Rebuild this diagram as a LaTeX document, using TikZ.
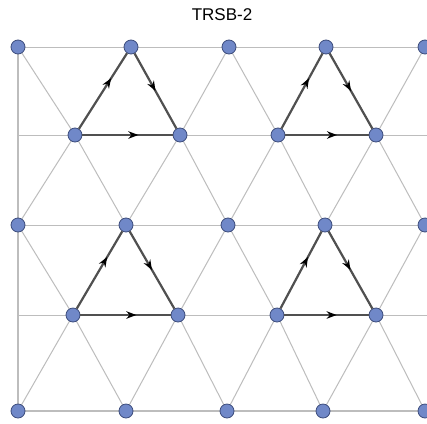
\documentclass[tikz,border=0pt]{standalone}
\usepackage{fontspec}
\setmainfont{Liberation Sans}
\usetikzlibrary{arrows.meta,decorations.markings,backgrounds}
\definecolor{sitefill}{HTML}{7088C8}
\definecolor{siteedge}{HTML}{3C4C7C}
\definecolor{bondgray}{HTML}{BDBDBD}
\definecolor{loopgray}{HTML}{505050}
\tikzset{
  site/.style={circle, fill=sitefill, draw=siteedge, line width=0.8pt,
               minimum size=14pt, inner sep=0pt},
  bond/.style={draw=bondgray, line width=1pt},
  loopbond/.style={draw=loopgray, line width=2.2pt, postaction=decorate,
    decoration={markings, mark=at position #1 with
      {\arrow[black]{Stealth[length=10pt,width=7.5pt]}}}},
}
\begin{document}
\begin{tikzpicture}[x=1pt, y=-1pt]
  \useasboundingbox (0,0) rectangle (427,423);

  \node[font=\fontsize{17}{20}\selectfont] (title) at (222,15) {TRSB-2};

  % lattice sites, row by row
  \foreach \x [count=\i from 0] in {18,131,229,326,425}
    \node[site] (a\i) at (\x,47) {};
  \foreach \x [count=\i from 0] in {75,180,278,376}
    \node[site] (b\i) at (\x,135) {};
  \foreach \x [count=\i from 0] in {18,126,228,325,425}
    \node[site] (c\i) at (\x,225) {};
  \foreach \x [count=\i from 0] in {73,178,277,376}
    \node[site] (d\i) at (\x,315) {};
  \foreach \x [count=\i from 0] in {18,126,227,323,425}
    \node[site] (e\i) at (\x,411) {};

  % free ends of the horizontal bonds
  \coordinate (aR) at (427,47);
  \coordinate (bL) at (18,135);  \coordinate (bR) at (427,135);
  \coordinate (cR) at (427,225);
  \coordinate (dL) at (18,315);  \coordinate (dR) at (427,315);
  \coordinate (eR) at (427,411);

  % white page and thin bonds of the triangular lattice
  \begin{pgfonlayer}{background}
    \fill[white] (0,0) rectangle (427,423);
    \draw[bond] (a0.center) -- (aR);
    \draw[bond] (bL) -- (bR);
    \draw[bond] (c0.center) -- (cR);
    \draw[bond] (dL) -- (dR);
    \draw[bond, line width=1.5pt] (e0.center) -- (eR);
    \draw[bond, line width=1.3pt] (a0.center) -- (e0.center);
    \foreach \i [evaluate=\i as \j using int(\i+1)] in {0,1,2,3} {
      \draw[bond] (b\i.center) -- (a\i.center);
      \draw[bond] (b\i.center) -- (a\j.center);
      \draw[bond] (b\i.center) -- (c\i.center);
      \draw[bond] (b\i.center) -- (c\j.center);
      \draw[bond] (d\i.center) -- (c\i.center);
      \draw[bond] (d\i.center) -- (c\j.center);
      \draw[bond] (d\i.center) -- (e\i.center);
      \draw[bond] (d\i.center) -- (e\j.center);
    }
  \end{pgfonlayer}

  % directed loops
  \draw[loopbond=0.67] (b0) -- (a1);
  \draw[loopbond=0.5]  (a1) -- (b1);
  \draw[loopbond=0.62] (b0) -- (b1);

  \draw[loopbond=0.67] (b2) -- (a3);
  \draw[loopbond=0.5]  (a3) -- (b3);
  \draw[loopbond=0.62] (b2) -- (b3);

  \draw[loopbond=0.67] (d0) -- (c1);
  \draw[loopbond=0.5]  (c1) -- (d1);
  \draw[loopbond=0.62] (d0) -- (d1);

  \draw[loopbond=0.67] (d2) -- (c3);
  \draw[loopbond=0.5]  (c3) -- (d3);
  \draw[loopbond=0.62] (d2) -- (d3);
\end{tikzpicture}
\end{document}
